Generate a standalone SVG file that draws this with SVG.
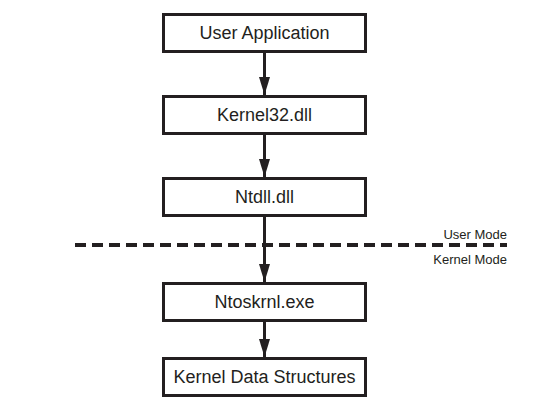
<svg xmlns="http://www.w3.org/2000/svg" width="559" height="409" viewBox="0 0 559 409">
<style>
.box{fill:#fff;stroke:#231f20;stroke-width:3}
.lbl{font-family:"Liberation Sans",Arial,sans-serif;font-size:18px;fill:#231f20;text-anchor:middle}
.mode{font-family:"Liberation Sans",Arial,sans-serif;font-size:13px;fill:#231f20;text-anchor:end}
.conn{stroke:#231f20;stroke-width:3;fill:none;marker-end:url(#ah)}
</style>
<defs>
<marker id="ah" markerUnits="userSpaceOnUse" markerWidth="18" markerHeight="11" refX="18" refY="5.5" viewBox="0 0 18 11" orient="auto">
<path d="M0,0 L18,5.5 L0,11 Z" fill="#231f20"/>
</marker>
</defs>
<rect width="559" height="409" fill="#fff"/>
<g id="n1"><rect class="box" x="163.5" y="14.5" width="202" height="37"/><text class="lbl" x="264.5" y="39">User Application</text></g>
<g id="n2"><rect class="box" x="163.5" y="96.5" width="202" height="37"/><text class="lbl" x="264.5" y="121">Kernel32.dll</text></g>
<g id="n3"><rect class="box" x="163.5" y="178.5" width="202" height="37"/><text class="lbl" x="264.5" y="203">Ntdll.dll</text></g>
<g id="n4"><rect class="box" x="163.5" y="283.5" width="202" height="37"/><text class="lbl" x="264.5" y="308">Ntoskrnl.exe</text></g>
<g id="n5"><rect class="box" x="163.5" y="358.5" width="202" height="37"/><text class="lbl" x="264.5" y="383">Kernel Data Structures</text></g>
<g id="boundary">
<line x1="75" y1="245" x2="507" y2="245" stroke="#231f20" stroke-width="4" stroke-dasharray="11,6"/>
<text class="mode" x="507" y="239">User Mode</text>
<text class="mode" x="507" y="264">Kernel Mode</text>
</g>
<g id="connectors">
<line class="conn" x1="264.5" y1="53" x2="264.5" y2="95"/>
<line class="conn" x1="264.5" y1="135" x2="264.5" y2="177"/>
<line class="conn" x1="264.5" y1="217" x2="264.5" y2="282"/>
<line class="conn" x1="264.5" y1="322" x2="264.5" y2="357"/>
</g>
</svg>
